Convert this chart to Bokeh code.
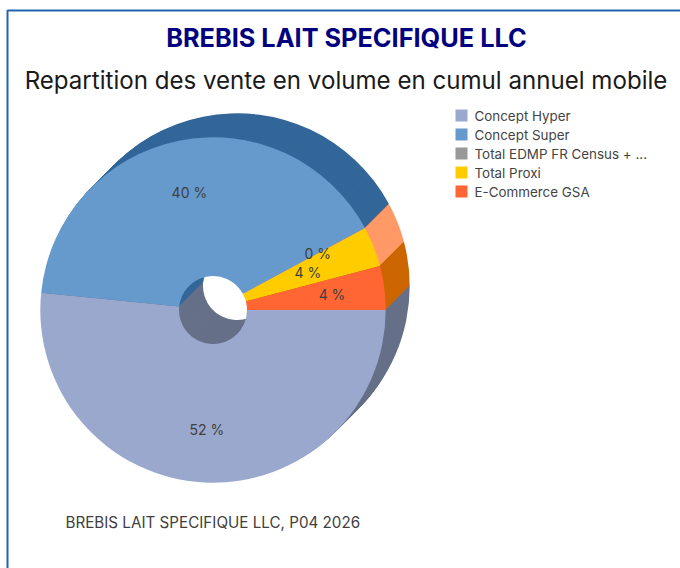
import numpy as np
from bokeh.plotting import figure
from bokeh.models import Range1d
from bokeh.embed import file_html
from bokeh.resources import INLINE
from bokeh.core.properties import value

FONT = "Inter"
categories = ["Concept Hyper", "Concept Super", "Total EDMP FR Census + ...", "Total Proxi", "E-Commerce GSA"]
shares = [51.6, 40.5, 0.05, 3.75, 4.1]
labels = ["52 %", "40 %", "0 %", "4 %", "4 %"]
front_colors = ["#99A8CC", "#6699CC", "#999999", "#FFCC00", "#FF6633"]
back_colors = ["#667088", "#336699", "#666666", "#FF9966", "#CC6600"]
title = "BREBIS LAIT SPECIFIQUE LLC"
subtitle = "Repartition des vente en volume en cumul annuel mobile"
footer = "BREBIS LAIT SPECIFIQUE LLC, P04 2026"

W, H = 680, 568
def X(px): return np.asarray(px, dtype=float)
def Y(py): return H - np.asarray(py, dtype=float)

p = figure(width=W, height=H, output_backend="svg", toolbar_location=None,
           x_range=Range1d(0, W), y_range=Range1d(0, H), min_border=0,
           outline_line_color=None, background_fill_color="white")
p.axis.visible = False
p.grid.visible = False

cx, cy, R, r0, depth = 212.5, 309.5, 172.7, 34.0, 24
edges = np.concatenate([[0], np.cumsum(shares)]) / sum(shares) * 2 * np.pi
starts, ends = -edges[:-1], -edges[1:]

for k in range(depth, 0, -1):
    p.annular_wedge(x=[X(cx + k)] * 5, y=[Y(cy - k)] * 5, inner_radius=r0, outer_radius=R,
                    start_angle=list(ends), end_angle=list(starts), fill_color=back_colors,
                    line_color=None)
p.annular_wedge(x=[X(cx)] * 5, y=[Y(cy)] * 5, inner_radius=r0, outer_radius=R,
                start_angle=list(ends), end_angle=list(starts), fill_color=front_colors,
                line_color=None)

label_r = [120, 120, 119, 102, 120]
mids = (edges[:-1] + edges[1:]) / 2
lx = cx + np.array(label_r) * np.cos(mids)
ly = cy + np.array(label_r) * np.sin(mids)
p.text(x=X(lx), y=Y(ly), text=labels, text_font=value(FONT), text_font_size="14px",
       text_color="#404040", text_align="center", text_baseline="middle")

p.text(x=X([346]), y=Y([37]), text=[title], text_font=value(FONT), text_font_size="25.3px",
       text_font_style="bold", text_color="#000080", text_align="center", text_baseline="middle")
p.text(x=X([345.5]), y=Y([80]), text=[subtitle], text_font=value(FONT), text_font_size="24.1px",
       text_color="#1a1a1a", text_align="center", text_baseline="middle")
p.text(x=X([65]), y=Y([522]), text=[footer], text_font=value(FONT), text_font_size="15.2px",
       text_color="#404040", text_align="left", text_baseline="middle")

ley = 115 + 19 * np.arange(5)
p.rect(x=X([461] * 5), y=Y(ley), width=12, height=12, fill_color=front_colors, line_color=None)
p.text(x=X([474] * 5), y=Y(ley), text=categories, text_font=value(FONT), text_font_size="13.4px",
       text_color="#444444", text_align="left", text_baseline="middle")

p.line(x=X([7, 7, 680]), y=Y([568, 10, 10]), line_color="#1F66AE", line_width=2)

open("out.html", "w").write(file_html(p, INLINE))
